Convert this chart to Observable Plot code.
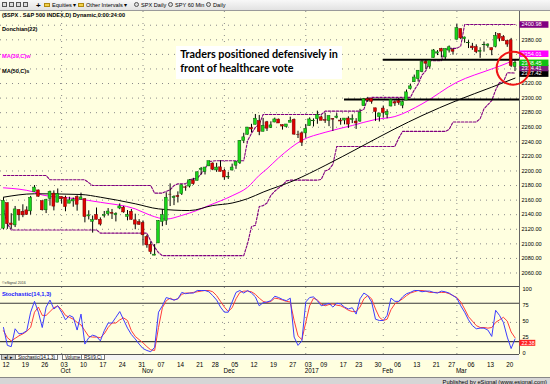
<!DOCTYPE html>
<html><head><meta charset="utf-8">
<script src="https://cdn.jsdelivr.net/npm/d3@7"></script>
<script src="https://cdn.jsdelivr.net/npm/@observablehq/plot@0.6"></script>
<style>
body{margin:0;}
#wrap{position:relative;width:550px;height:384px;overflow:hidden;background:#ffffe0;font-family:"Liberation Sans",Arial,sans-serif;}
#toolbar{position:absolute;left:0;top:0;width:550px;height:10px;background:linear-gradient(#f8f8f8,#e2e2e2);border-bottom:1px solid #9a9a9a;font-size:5.6px;color:#000;}
#toolbar span{position:absolute;top:2px;white-space:nowrap;}
#toolbar i{position:absolute;top:2px;width:5px;height:5px;border:1px solid #555;box-sizing:border-box;background:#ddd;}
#toolbar b.f{position:absolute;top:3px;width:6px;height:4px;background:#f2d14a;border:1px solid #b08a10;box-sizing:border-box;}
#price{position:absolute;left:0;top:11px;}
#stoch{position:absolute;left:0;top:287px;}
.hline{position:absolute;left:0;width:519px;height:1px;background:#555;}
#tabs{position:absolute;left:0;top:355px;width:519px;height:5px;background:#f4f4f4;font-size:4.6px;}
#tabs span{position:absolute;top:0;height:5px;line-height:5px;border:1px solid #777;border-top:none;box-sizing:border-box;padding:0 2px;background:#fff;}
#bottom{position:absolute;left:0;top:377px;width:550px;height:7px;background:#d6d6d6;border-top:1px solid #888;font-size:5.8px;}
#bottom span{position:absolute;right:3px;top:0.5px;white-space:nowrap;}
#note{position:absolute;left:176px;top:46px;}
</style></head><body><div id="wrap">
<div id="toolbar">
  <i style="left:2px"></i><i style="left:9px"></i><i style="left:16px"></i><i style="left:23px"></i>
  <span style="left:36px;top:0.5px;font-size:8px;font-weight:bold">+</span>
  <b class="f" style="left:44px"></b><span style="left:52px">Equities ▾</span>
  <b class="f" style="left:78px"></b><span style="left:86px">Other Intervals ▾</span>
  <i style="left:134px;border-radius:3px"></i><span style="left:141px">SPX Daily</span>
  <i style="left:168px;border-radius:3px"></i><span style="left:175px">SPY 60 Min</span>
  <i style="left:206px;border-radius:3px"></i><span style="left:213px">Daily</span>
</div>
<div id="price"></div>
<div class="hline" style="top:286px"></div>
<div id="stoch"></div>
<div class="hline" style="top:354px"></div>
<div id="tabs">
  <span style="left:1px;background:#ccc">◂</span><span style="left:7px;background:#ccc">▸</span>
  <span style="left:15px">Stochastic(14,1,3)</span><span style="left:62px">Volume</span><span style="left:81px">RSI(9,C)</span>
</div>
<div id="bottom"><span>Published by eSignal (www.esignal.com)</span></div>
<svg id="note" width="168" height="34">
  <rect x="0" y="0" width="166" height="33" fill="#fff"></rect>
  <g font-family="Lato, 'Open Sans', sans-serif" font-weight="bold" font-size="11.5" fill="#000" transform="scale(0.94,1)">
    <text x="4.5" y="12.3">Traders positioned defensively in</text>
    <text x="4.5" y="25.7">front of healthcare vote</text>
  </g>
</svg>
</div>
<script>
// ---------- DATA ----------
const dates = [
"2016-09-12","2016-09-13","2016-09-14","2016-09-15","2016-09-16","2016-09-19","2016-09-20","2016-09-21","2016-09-22","2016-09-23","2016-09-26","2016-09-27","2016-09-28","2016-09-29","2016-09-30",
"2016-10-03","2016-10-04","2016-10-05","2016-10-06","2016-10-07","2016-10-10","2016-10-11","2016-10-12","2016-10-13","2016-10-14","2016-10-17","2016-10-18","2016-10-19","2016-10-20","2016-10-21","2016-10-24","2016-10-25","2016-10-26","2016-10-27","2016-10-28","2016-10-31",
"2016-11-01","2016-11-02","2016-11-03","2016-11-04","2016-11-07","2016-11-08","2016-11-09","2016-11-10","2016-11-11","2016-11-14","2016-11-15","2016-11-16","2016-11-17","2016-11-18","2016-11-21","2016-11-22","2016-11-23","2016-11-25","2016-11-28","2016-11-29","2016-11-30",
"2016-12-01","2016-12-02","2016-12-05","2016-12-06","2016-12-07","2016-12-08","2016-12-09","2016-12-12","2016-12-13","2016-12-14","2016-12-15","2016-12-16","2016-12-19","2016-12-20","2016-12-21","2016-12-22","2016-12-23","2016-12-27","2016-12-28","2016-12-29","2016-12-30",
"2017-01-03","2017-01-04","2017-01-05","2017-01-06","2017-01-09","2017-01-10","2017-01-11","2017-01-12","2017-01-13","2017-01-17","2017-01-18","2017-01-19","2017-01-20","2017-01-23","2017-01-24","2017-01-25","2017-01-26","2017-01-27","2017-01-30","2017-01-31",
"2017-02-01","2017-02-02","2017-02-03","2017-02-06","2017-02-07","2017-02-08","2017-02-09","2017-02-10","2017-02-13","2017-02-14","2017-02-15","2017-02-16","2017-02-17","2017-02-21","2017-02-22","2017-02-23","2017-02-24","2017-02-27","2017-02-28",
"2017-03-01","2017-03-02","2017-03-03","2017-03-06","2017-03-07","2017-03-08","2017-03-09","2017-03-10","2017-03-13","2017-03-14","2017-03-15","2017-03-16","2017-03-17","2017-03-20","2017-03-21","2017-03-22"];

const opens = [
2120.86,2155.81,2127.86,2125.36,2146.48,2143.99,2145.94,2144.58,2170.94,2173.29,2158.54,2146.04,2161.85,2168.90,2156.51,
2164.33,2163.37,2155.15,2158.22,2164.19,2160.39,2161.35,2137.67,2130.26,2139.68,2132.95,2138.31,2140.81,2142.51,2139.43,2148.50,2149.72,2136.97,2144.06,2132.23,2129.78,
2128.68,2109.43,2098.80,2083.79,2100.59,2129.92,2131.56,2167.49,2162.71,2165.64,2168.29,2177.53,2178.61,2186.85,2186.43,2201.56,2198.55,2206.27,2210.21,2200.76,2204.97,
2200.17,2191.12,2200.65,2207.26,2210.72,2241.13,2249.73,2258.83,2263.32,2268.35,2253.77,2266.81,2259.24,2266.50,2270.54,2262.93,2260.25,2266.23,2270.23,2249.50,2251.61,
2251.57,2261.60,2268.18,2271.14,2273.59,2269.72,2268.60,2271.14,2272.74,2269.14,2269.14,2271.90,2269.96,2267.78,2267.88,2288.88,2298.63,2299.02,2286.01,2274.02,
2285.59,2276.69,2288.54,2294.28,2295.87,2289.55,2296.70,2312.27,2321.72,2326.12,2335.58,2349.64,2343.01,2354.91,2361.11,2367.50,2355.73,2365.23,2366.08,
2380.13,2394.75,2380.92,2375.23,2370.74,2369.81,2363.49,2372.52,2371.56,2368.55,2370.34,2387.71,2383.71,2378.24,2379.32,2343.00];

const highs = [
2163.30,2155.81,2141.33,2151.31,2146.48,2153.61,2150.80,2165.11,2179.99,2173.75,2158.54,2161.13,2172.40,2172.67,2175.30,
2164.41,2165.46,2163.95,2162.93,2165.86,2169.60,2161.56,2145.36,2138.19,2149.19,2135.61,2144.38,2148.44,2147.18,2142.63,2154.79,2151.44,2145.73,2147.13,2140.72,2133.25,
2131.45,2111.76,2102.56,2099.07,2132.00,2146.87,2170.10,2182.30,2165.92,2171.36,2180.84,2179.22,2188.06,2189.89,2198.70,2204.80,2204.72,2213.35,2211.14,2210.46,2214.10,
2202.60,2197.95,2209.42,2212.78,2241.63,2251.69,2259.80,2264.03,2277.53,2276.20,2272.12,2268.05,2267.47,2272.56,2271.23,2263.18,2263.79,2273.82,2271.31,2254.51,2253.58,
2263.88,2272.82,2271.50,2282.10,2275.49,2279.27,2275.32,2271.78,2278.68,2272.08,2272.01,2274.33,2276.96,2271.78,2284.63,2299.55,2300.99,2299.02,2286.01,2279.09,
2289.14,2283.97,2298.31,2296.18,2299.40,2295.91,2311.08,2319.23,2331.58,2337.58,2351.30,2351.31,2351.16,2366.71,2365.13,2368.26,2367.34,2371.54,2367.79,
2400.98,2394.75,2383.89,2378.80,2375.12,2373.09,2369.08,2376.86,2374.42,2368.55,2390.01,2388.10,2385.71,2379.55,2381.93,2351.81];

const lows = [
2119.12,2119.87,2119.90,2122.36,2131.20,2135.91,2139.17,2139.57,2170.94,2163.97,2145.04,2141.55,2151.79,2145.20,2156.51,
2154.77,2144.01,2155.15,2150.28,2144.85,2160.39,2128.84,2132.77,2114.72,2132.98,2124.43,2135.49,2138.15,2133.44,2130.09,2146.91,2141.93,2131.59,2132.52,2119.36,2125.53,
2097.85,2094.00,2085.23,2083.79,2100.59,2123.56,2125.35,2151.17,2152.49,2156.08,2166.38,2172.20,2176.65,2180.38,2186.43,2194.51,2194.51,2206.27,2200.36,2198.15,2198.81,
2187.44,2188.37,2199.97,2202.21,2208.93,2237.57,2249.23,2252.37,2263.32,2248.44,2253.77,2254.24,2258.21,2266.14,2265.15,2256.08,2258.84,2266.15,2249.11,2244.56,2233.62,
2245.13,2261.60,2260.45,2264.06,2268.90,2265.27,2260.83,2254.25,2271.51,2262.81,2263.35,2258.41,2265.01,2257.02,2266.68,2288.88,2294.08,2291.62,2268.04,2267.21,
2272.44,2271.65,2287.88,2288.57,2290.16,2285.38,2296.61,2311.10,2321.42,2322.17,2334.81,2338.87,2339.58,2354.91,2358.34,2355.09,2352.87,2361.87,2358.96,
2380.13,2380.17,2375.39,2367.98,2365.51,2361.01,2354.54,2363.04,2368.52,2358.18,2368.94,2377.18,2377.64,2369.66,2341.90,2336.45];

const closes = [
2159.04,2127.02,2125.77,2147.26,2139.16,2139.12,2139.76,2163.12,2177.18,2164.69,2146.10,2159.93,2171.37,2151.13,2168.27,
2161.20,2150.49,2159.73,2160.77,2153.74,2163.66,2136.73,2139.18,2132.55,2132.98,2126.50,2139.60,2144.29,2141.34,2141.16,2151.33,2143.16,2139.43,2133.04,2126.41,2126.15,
2111.72,2097.94,2088.66,2085.18,2131.52,2139.56,2163.26,2167.48,2164.45,2164.20,2180.39,2176.94,2187.12,2181.90,2198.18,2202.94,2204.72,2213.35,2201.72,2204.66,2198.81,
2191.08,2191.95,2204.71,2212.23,2241.35,2246.19,2259.53,2256.96,2271.72,2253.28,2262.03,2258.07,2262.53,2270.76,2265.18,2260.96,2263.79,2268.88,2249.92,2249.26,2238.83,
2257.83,2270.75,2269.00,2276.98,2268.90,2268.90,2275.32,2270.44,2274.64,2267.89,2271.89,2263.69,2271.31,2265.20,2280.07,2298.37,2296.68,2294.69,2280.90,2278.87,
2279.55,2280.85,2297.42,2292.56,2293.08,2294.67,2307.87,2316.10,2328.25,2337.58,2349.25,2347.22,2351.16,2365.38,2362.82,2363.81,2367.34,2369.75,2363.64,
2395.96,2381.92,2383.12,2375.31,2368.39,2362.98,2364.87,2372.60,2373.47,2365.45,2385.26,2381.38,2378.25,2373.47,2344.02,2348.45];

const donchianUpper = [
["2016-09-12",2193.8],["2016-09-27",2193.8],["2016-09-28",2187.9],["2016-10-11",2187.9],["2016-10-13",2180],["2016-11-03",2180],
["2016-11-04",2169.6],["2016-11-08",2169.6],["2016-11-09",2172],["2016-11-10",2174],["2016-11-11",2180],["2016-11-14",2182.3],["2016-11-16",2182.3],
["2016-11-17",2188],["2016-11-21",2190],["2016-11-22",2196],["2016-11-23",2203],["2016-11-25",2213],["2016-11-29",2214.1],["2016-12-08",2214.1],
["2016-12-09",2241.6],["2016-12-12",2251.7],["2016-12-13",2259.8],["2016-12-14",2264],["2016-12-15",2277.5],["2017-01-09",2277.5],["2017-01-10",2282.1],
["2017-01-24",2282.1],["2017-01-25",2284.6],["2017-01-26",2299.6],["2017-01-27",2301],["2017-02-10",2301],["2017-02-13",2311.1],["2017-02-14",2319.2],
["2017-02-15",2331.6],["2017-02-16",2337.6],["2017-02-17",2351.3],["2017-02-23",2351.3],["2017-02-24",2366.7],["2017-02-27",2368.3],["2017-03-01",2368.3],
["2017-03-02",2371.5],["2017-03-03",2401],["2017-03-22",2401]];

const donchianLower = [
["2016-09-12",2147.6],["2016-09-13",2127.8],["2016-09-14",2119.1],["2016-10-14",2119.1],["2016-10-17",2114.7],["2016-11-02",2114.7],
["2016-11-03",2104],["2016-11-04",2095.4],["2016-11-07",2088],["2016-11-08",2083.8],["2016-12-08",2083.8],["2016-12-09",2100.6],["2016-12-12",2123.6],
["2016-12-13",2125.4],["2016-12-14",2151.2],["2016-12-15",2152.5],["2016-12-16",2156.1],["2016-12-19",2166.4],["2016-12-20",2172.2],["2016-12-21",2176.7],
["2016-12-22",2180.4],["2016-12-23",2186.4],["2016-12-27",2187.4],["2017-01-06",2187.4],["2017-01-09",2188.4],["2017-01-10",2200],["2017-01-11",2202.2],
["2017-01-12",2208.9],["2017-01-13",2233.6],["2017-02-06",2233.6],["2017-02-07",2245.1],["2017-02-08",2254.3],["2017-02-24",2254.3],["2017-02-27",2257],
["2017-02-28",2267.2],["2017-03-08",2267.2],["2017-03-09",2271.7],["2017-03-10",2285.4],["2017-03-14",2296.6],["2017-03-15",2311.1],["2017-03-16",2321.4],
["2017-03-17",2322.2],["2017-03-20",2334.8],["2017-03-22",2334.4]];

const ma39w = [
["2016-09-12",2176.9],["2016-09-22",2171],["2016-09-26",2167],["2016-10-07",2161.8],["2016-10-17",2157],["2016-10-28",2148],["2016-11-03",2139],
["2016-11-09",2134],["2016-11-15",2139],["2016-11-21",2146],["2016-11-25",2152.6],["2016-12-05",2166],["2016-12-09",2177.7],["2016-12-14",2194],
["2016-12-16",2203],["2016-12-21",2218],["2016-12-30",2242],["2017-01-10",2253],["2017-01-20",2262.4],["2017-01-30",2270.7],["2017-02-06",2274.7],
["2017-02-15",2292],["2017-03-01",2321.8],["2017-03-14",2340],["2017-03-20",2348],["2017-03-22",2353]];

const ma50s = [
["2016-09-12",2164],["2016-09-22",2168.7],["2016-10-10",2167.7],["2016-10-17",2164],["2016-10-28",2155],["2016-11-07",2148],["2016-11-17",2145.7],
["2016-11-28",2152.6],["2016-12-05",2156],["2016-12-09",2162],["2016-12-15",2171],["2016-12-28",2187],["2017-01-10",2207.5],["2017-01-24",2232.6],
["2017-02-06",2257.9],["2017-02-15",2276],["2017-03-01",2296.7],["2017-03-14",2315],["2017-03-22",2327.4]];

const stochK = [42,14,12,40,32,33,37,66,83,66,42,74,85,71,76,66,54,61,58,38,63,16,26,30,28,21,37,49,49,58,67,54,41,31,24,16,9,6,4,11,
66,76,89,87,85,87,97,95,96,96,100,100,100,98,92,85,74,66,66,82,97,100,96,100,96,90,76,81,82,84,91,89,86,84,88,27,14,21,82,89,
90,84,76,78,80,74,80,79,74,71,73,63,87,96,92,82,55,53,53,61,88,83,83,90,95,97,100,100,98,99,99,97,96,99,98,96,92,88,76,66,
54,45,40,41,41,38,28,69,61,50,27,9,24];
const stochD = [37,26,21,25,29,32,36,42,66,74,61,61,67,73,76,70,61,58,55,50,46,37,28,27,27,26,32,42,49,49,54,57,53,37,28,23,18,12,7,6,
42,73,84,88,85,87,94,96,96,97,98,99,100,100,98,92,83,74,67,73,87,97,99,99,98,94,88,83,81,83,88,87,85,83,82,53,29,23,50,76,
88,85,79,76,78,79,77,76,73,69,67,67,74,87,92,87,71,58,53,55,70,79,83,87,92,96,98,100,100,99,97,97,97,97,97,95,92,89,82,71,
59,52,45,42,42,41,42,50,54,58,52,35,26];

const priceTicks = [2060,2080,2100,2120,2140,2160,2180,2200,2220,2240,2260,2280,2300,2320,2340,2360,2380];
const gridLevels = [2060,2080,2100,2120,2140,2160,2180,2200,2220,2240,2260,2280,2300,2320,2340,2360,2380,2400];
const stochTicks = [0,25,50,75,100];
const stochLevels = [20,80];
const weekTicks = ["2016-09-12","2016-09-19","2016-09-26","2016-10-03","2016-10-10","2016-10-17","2016-10-24","2016-10-31","2016-11-07","2016-11-14",
"2016-11-21","2016-11-28","2016-12-05","2016-12-12","2016-12-19","2016-12-27","2017-01-03","2017-01-09","2017-01-17","2017-01-23","2017-01-30",
"2017-02-06","2017-02-13","2017-02-21","2017-02-27","2017-03-06","2017-03-13","2017-03-20"];
const monthTicks = [["2016-10-03","Oct"],["2016-11-01","Nov"],["2016-12-01","Dec"],["2017-01-03","2017"],["2017-02-01","Feb"],["2017-03-01","Mar"]];
const supportLines = [{from:"2017-02-01", level:2352.5},{from:"2017-01-18", level:2298}];
const priceLabels = [
  {value:2400.98, text:"2400.98", color:"#800080", shift:0},
  {value:2354.01, text:"2354.01", color:"#ff00ff", shift:-5},
  {value:2327.42, text:"2327.42", color:"#000000", shift:-4.5},
  {value:2334.41, text:"2334.41", color:"#7a1f7a", shift:-5},
  {value:2348.45, text:"2348.45", color:"#10c010", shift:0}];
const stochLabel = {value:22.38, text:"22.38", color:"#ff2020"};
const legend = [
  {text:"($SPX . S&P 500 INDEX,D) Dynamic,0:00:24:00", color:"#000", row:4},
  {text:"Donchian(22)", color:"#000", row:18},
  {text:"MA(39,C)w", color:"#ff00ff", row:45},
  {text:"MA(50,C)s", color:"#000", row:60}];
const highlight = {date:"2017-03-21", price:2341};

// ---------- BUILD ----------
const idx = d => dates.indexOf(d);
const xDomain = [-0.774, 133.16];
const candles = dates.map((d,i)=>({i, o:opens[i], h:highs[i], l:lows[i], c:closes[i]}));
const up = candles.filter(d=>d.c>=d.o), down = candles.filter(d=>d.c<d.o);
const pts = arr => arr.map(([d,v])=>({i:idx(d), v}));
const FONT = "'Liberation Sans', Arial, sans-serif";
const grid = {stroke:"#8a8a8a", strokeDasharray:"1,5", strokeWidth:1};

const price = Plot.plot({
  width:550, height:276, marginLeft:0, marginRight:31, marginTop:0, marginBottom:0,
  style:{background:"transparent", fontFamily:FONT, fontSize:"5.6px", overflow:"visible"},
  x:{domain:xDomain, axis:null},
  y:{domain:[2040.1, 2418.84]},
  marks:[
    Plot.ruleY(gridLevels, grid),
    Plot.ruleX(monthTicks, {x:d=>idx(d[0]), ...grid}),
    Plot.line(pts(donchianUpper), {x:"i", y:"v", stroke:"#800080", strokeWidth:1.1, strokeDasharray:"2.5,1.5"}),
    Plot.line(pts(donchianLower), {x:"i", y:"v", stroke:"#800080", strokeWidth:1.1, strokeDasharray:"2.5,1.5"}),
    Plot.line(pts(ma39w), {x:"i", y:"v", stroke:"#ff00ff", strokeWidth:1, curve:"monotone-x"}),
    Plot.line(pts(ma50s), {x:"i", y:"v", stroke:"#000", strokeWidth:1, curve:"monotone-x"}),
    Plot.ruleY(supportLines, {y:"level", x1:d=>idx(d.from), x2:xDomain[1], stroke:"#000", strokeWidth:2}),
    Plot.ruleX(candles, {x:"i", y1:"l", y2:"h", stroke:"#000", strokeWidth:1}),
    Plot.rect(up, {x1:d=>d.i-0.37, x2:d=>d.i+0.37, y1:"o", y2:"c", fill:"#19d619", stroke:"#0a5a0a", strokeWidth:0.5}),
    Plot.rect(down, {x1:d=>d.i-0.37, x2:d=>d.i+0.37, y1:"o", y2:"c", fill:"#e00000", stroke:"#6a0000", strokeWidth:0.5}),
    Plot.ruleX([xDomain[1]], {stroke:"#666"}),
    Plot.axisY({anchor:"right", ticks:priceTicks, tickSize:0, tickPadding:2, tickFormat:d=>d.toFixed(2), fill:"#000"}),
    ...priceLabels.map(l => Plot.ruleY([l], {y:"value", x1:xDomain[1]+0.1, x2:xDomain[1]+7.6, stroke:l.color, strokeWidth:6.5, dy:l.shift})),
    ...priceLabels.map(l => Plot.text([l], {y:"value", text:"text", frameAnchor:"right", dx:2, dy:l.shift, textAnchor:"start", fill:"#fff", fontSize:5.6})),
    ...legend.map(l => Plot.text([l.text], {frameAnchor:"top-left", dx:1.5, dy:l.row, textAnchor:"start", lineAnchor:"middle", fill:l.color, fontWeight:"bold", fontSize:5.6})),
    Plot.text(["©eSignal 2016"], {frameAnchor:"bottom-left", dx:1.5, dy:-4, textAnchor:"start", fontSize:3.6, fill:"#333"}),
    Plot.dot([highlight], {x:d=>idx(d.date), y:"price", r:16.5, dx:2, stroke:"#f01414", strokeWidth:2, fill:"none"})
  ]
});
document.getElementById("price").appendChild(price);

const stochRows = dates.map((d,i)=>({i, k:stochK[i], d:stochD[i]}));
const stoch = Plot.plot({
  width:550, height:90, marginLeft:0, marginRight:31, marginTop:0, marginBottom:23,
  style:{background:"transparent", fontFamily:FONT, fontSize:"5.6px", overflow:"visible"},
  x:{domain:xDomain, axis:null},
  y:{domain:[0,100], range:[66.8,3]},
  marks:[
    Plot.ruleY([50], grid),
    Plot.ruleX(monthTicks, {x:d=>idx(d[0]), ...grid}),
    Plot.ruleY(stochLevels, {stroke:"#3a3a3a", strokeWidth:1.2}),
    Plot.line(stochRows, {x:"i", y:"d", stroke:"#ff3c3c", strokeWidth:1}),
    Plot.line(stochRows, {x:"i", y:"k", stroke:"#3c3cff", strokeWidth:1}),
    Plot.ruleX([xDomain[1]], {stroke:"#666"}),
    Plot.axisY({anchor:"right", ticks:stochTicks, tickSize:0, tickPadding:3, fill:"#000", dy:-1.2}),
    Plot.ruleY([stochLabel], {y:"value", x1:xDomain[1]+0.1, x2:xDomain[1]+4.2, stroke:stochLabel.color, strokeWidth:6, dy:2.8}),
    Plot.text([stochLabel], {y:"value", text:"text", frameAnchor:"right", dx:2, dy:2.8, textAnchor:"start", fill:"#fff", fontSize:5.3}),
    Plot.text(["Stochastic(14,1,3)"], {frameAnchor:"top-left", dx:1.5, dy:6.3, textAnchor:"start", lineAnchor:"middle", fill:"#2020ff", fontWeight:"bold", fontSize:5.8}),
    Plot.text(weekTicks, {x:d=>idx(d), text:d=>d.slice(8), frameAnchor:"bottom", dx:-1, dy:10.3, textAnchor:"start", lineAnchor:"middle", fontSize:6.3, fill:"#000"}),
    Plot.text(monthTicks, {x:d=>idx(d[0]), text:d=>d[1], frameAnchor:"bottom", dx:-1, dy:16.8, textAnchor:"start", lineAnchor:"middle", fontSize:6.3, fill:"#000"})
  ]
});
document.getElementById("stoch").appendChild(stoch);
</script>
</body></html>
